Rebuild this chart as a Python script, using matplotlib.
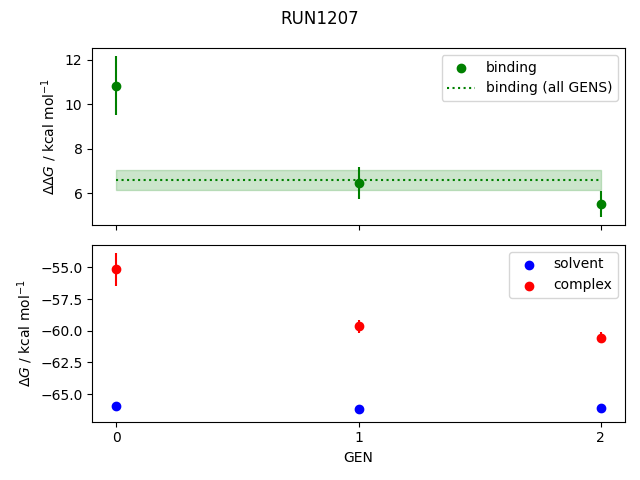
import matplotlib
matplotlib.use("Agg")
import matplotlib.pyplot as plt
import numpy as np

gens = [0, 1, 2]
binding = [10.83, 6.48, 5.53]
binding_err = [1.33, 0.71, 0.58]
binding_all = 6.60
binding_all_err = 0.43

solvent = [-65.95, -66.2, -66.1]
solvent_err = [0.2, 0.35, 0.3]
complex_ = [-55.15, -59.65, -60.55]
complex_err = [1.3, 0.5, 0.45]

fig, (ax1, ax2) = plt.subplots(2, 1, sharex=True)
fig.suptitle("RUN1207")

ax1.scatter(gens, binding, color="green", label="binding")
ax1.errorbar(gens, binding, yerr=binding_err, color="green", ls="none")
ax1.hlines(binding_all, gens[0], gens[-1], color="green", linestyle=":",
           label="binding (all GENS)")
ax1.fill_between([gens[0], gens[-1]], binding_all - binding_all_err,
                 binding_all + binding_all_err, color="green", alpha=0.2)
ax1.set_ylabel(r"$\Delta\Delta G$ / kcal mol$^{-1}$")
ax1.legend()

ax2.scatter(gens, solvent, color="blue", label="solvent")
ax2.errorbar(gens, solvent, yerr=solvent_err, color="blue", ls="none")
ax2.scatter(gens, complex_, color="red", label="complex")
ax2.errorbar(gens, complex_, yerr=complex_err, color="red", ls="none")
ax2.set_ylabel(r"$\Delta G$ / kcal mol$^{-1}$")
ax2.set_xlabel("GEN")
ax2.set_xticks(gens)
ax2.legend()

fig.tight_layout()
fig.savefig("out.png")
